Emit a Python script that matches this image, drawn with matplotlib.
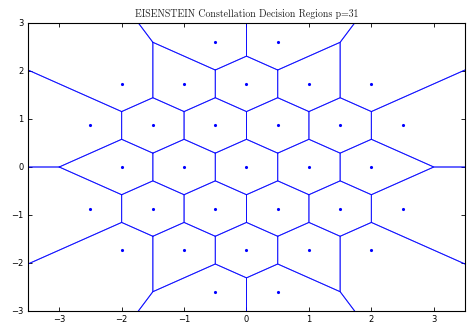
import numpy as np
import matplotlib
matplotlib.use("Agg")
import matplotlib.pyplot as plt

# Eisenstein constellation (p = 31): rows of lattice points, row index k -> y = k*sqrt(3)/2
row_index = [-3, -2, -1, 0, 1, 2, 3]
row_x = [
    [-0.5, 0.5],
    [-2, -1, 0, 1, 2],
    [-2.5, -1.5, -0.5, 0.5, 1.5, 2.5],
    [-2, -1, 0, 1, 2],
    [-2.5, -1.5, -0.5, 0.5, 1.5, 2.5],
    [-2, -1, 0, 1, 2],
    [-0.5, 0.5],
]
x_ticks = [-3, -2, -1, 0, 1, 2, 3]
y_ticks = [-3, -2, -1, 0, 1, 2, 3]
title = "EISENSTEIN Constellation Decision Regions p=31"

pts = np.array([(x, k * np.sqrt(3) / 2) for k, xs in zip(row_index, row_x) for x in xs])


def clip(poly, a, b):
    """Keep the part of polygon poly where a . p <= b."""
    out = []
    n = len(poly)
    for i in range(n):
        p, q = poly[i], poly[(i + 1) % n]
        fp, fq = a @ p - b, a @ q - b
        if fp <= 0:
            out.append(p)
        if fp * fq < 0:
            t = fp / (fp - fq)
            out.append(p + t * (q - p))
    return out


B = 50.0
box = [np.array(v) for v in [(-B, -B), (B, -B), (B, B), (-B, B)]]
cells = []
for i, p in enumerate(pts):
    poly = box
    for j, q in enumerate(pts):
        if i == j:
            continue
        a = q - p
        b = (q @ q - p @ p) / 2
        poly = clip(poly, a, b)
    cells.append(np.array(poly))

fig = plt.figure(figsize=(4.74, 3.26), dpi=100)
ax = fig.add_axes([28 / 474, 1 - 311 / 326, 437 / 474, 288 / 326])

for c in cells:
    cc = np.vstack([c, c[:1]])
    ax.plot(cc[:, 0], cc[:, 1], color="#0000ff", lw=0.7, alpha=0.75)
ax.plot(pts[:, 0], pts[:, 1], ".", color="#0000ff", ms=2.5)

ax.set_xlim(-3.5, 3.5)
ax.set_ylim(-3, 3)
ax.set_xticks(x_ticks)
ax.set_yticks(y_ticks)
ax.tick_params(direction="in", length=3, width=0.6, labelsize=6, top=True, right=True, pad=3)
for s in ax.spines.values():
    s.set_linewidth(0.8)
ax.set_title(title, family=["cmr10", "DejaVu Serif"], fontsize=7.1, pad=4, color="#222222")

fig.savefig("out.png", dpi=100)
